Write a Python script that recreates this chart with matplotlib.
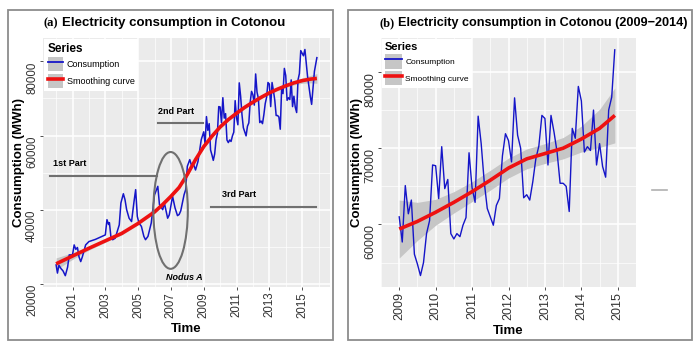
import numpy as np
import matplotlib
matplotlib.use("Agg")
import matplotlib.pyplot as plt
from matplotlib.patches import Ellipse, Patch, Rectangle
from matplotlib.lines import Line2D
from matplotlib.legend_handler import HandlerTuple

plt.rcParams['font.family'] = ['Liberation Sans', 'DejaVu Sans']

# ---- data ----
# panel (a): 2000 - 2008, irregular samples of the monthly curve
early_t = [2000.00, 2000.08, 2000.17, 2000.30, 2000.42, 2000.56, 2000.70, 2000.80,
           2001.00, 2001.10, 2001.20, 2001.30, 2001.40, 2001.50, 2001.60, 2001.80,
           2002.00, 2002.40, 2002.80, 2003.00, 2003.10, 2003.20, 2003.25, 2003.35,
           2003.45, 2003.60, 2003.85, 2003.95, 2004.10, 2004.20, 2004.30, 2004.45,
           2004.60, 2004.75, 2004.85, 2004.95, 2005.05, 2005.20, 2005.35, 2005.45,
           2005.60, 2005.80, 2006.00, 2006.20, 2006.30, 2006.50, 2006.60, 2006.80,
           2006.90, 2007.10, 2007.25, 2007.40, 2007.50, 2007.60, 2007.80, 2007.90,
           2008.00, 2008.15, 2008.25, 2008.35, 2008.50, 2008.65, 2008.85]
early_cons = [25100, 22900, 25000, 24100, 23500, 22200, 24500, 27800,
              27800, 30500, 29300, 29800, 27200, 26000, 27300, 30500,
              31400, 32000, 32800, 33200, 37300, 36000, 36500, 32300,
              31900, 32300, 35900, 41800, 44300, 42700, 40000, 37700,
              36800, 42200, 45400, 38200, 36400, 35500, 32800, 31900,
              32800, 36400, 44000, 46300, 41400, 40000, 41800, 37700,
              38600, 43600, 40500, 38400, 38700, 39700, 44000, 45400,
              51700, 53500, 52000, 52600, 50700, 53000, 58900]

# monthly consumption Jan 2009 - Dec 2014 (shared by both panels)
cons_2009 = [61000, 57700, 65100, 61400, 63200, 56100, 54800, 53300, 55000, 58800, 60500, 67800]
cons_2010 = [67700, 63400, 70200, 64700, 65900, 58800, 58100, 58800, 58400, 59900, 60900, 69400]
cons_2011 = [64800, 62900, 74200, 70600, 65600, 62100, 61000, 59900, 62500, 63400, 69000, 71900]
cons_2012 = [71000, 68200, 76600, 71700, 70000, 63500, 63900, 63200, 65600, 68600, 70300, 74300]
cons_2013 = [73900, 67800, 74300, 72100, 69500, 65400, 65400, 65000, 61700, 72600, 71300, 78100]
cons_2014 = [76200, 69500, 70200, 69700, 75000, 67800, 70600, 67600, 66200, 75000, 76700, 82900]

late_t = [2015.08, 2015.17, 2015.33, 2015.50, 2015.58, 2015.75, 2015.90]
late_cons = [81500, 83200, 76000, 70500, 68400, 77300, 81000]

# smoothing curves and half width of their grey bands
smooth_a_t = [2000.0, 2001.0, 2002.0, 2003.0, 2004.0, 2005.0, 2006.0, 2006.5, 2007.0,
              2007.5, 2008.0, 2008.5, 2009.0, 2009.5, 2010.0, 2010.5, 2011.0, 2011.5,
              2012.0, 2012.5, 2013.0, 2013.5, 2014.0, 2014.5, 2015.0, 2015.5, 2015.9]
smooth_a = [25400, 27500, 29600, 31600, 33600, 36300, 39400, 41400, 43600,
            46000, 49500, 53500, 57000, 59800, 62300, 64300, 66000, 67600,
            69000, 70300, 71500, 72500, 73400, 74200, 74800, 75200, 75400]
band_a = [1600, 900, 500, 400, 400, 400, 400, 400, 400,
          400, 400, 400, 400, 400, 400, 400, 400, 400,
          400, 400, 400, 400, 450, 550, 700, 1000, 1300]

smooth_b_t = [2009.0, 2009.5, 2010.0, 2010.5, 2011.0, 2011.5, 2012.0, 2012.5,
              2013.0, 2013.5, 2014.0, 2014.5, 2014.92]
smooth_b = [59400, 60400, 61600, 62900, 64300, 65800, 67400, 68600,
            69300, 70000, 71200, 72600, 74300]
band_b = [3800, 2500, 1700, 1400, 1300, 1300, 1300, 1300,
          1300, 1400, 1700, 2500, 3600]

years_a = [2001, 2003, 2005, 2007, 2009, 2011, 2013, 2015]
years_b = [2009, 2010, 2011, 2012, 2013, 2014, 2015]

monthly = cons_2009 + cons_2010 + cons_2011 + cons_2012 + cons_2013 + cons_2014
month_t = list(2009 + np.arange(len(monthly)) / 12)

BLUE = '#1515C8'
RED = '#EE1111'
BAND = '#C6C6C6'
PANEL = '#EBEBEB'


def style_panel(ax, xticks, yticks, xminor, yminor, tick_fs):
    ax.set_facecolor(PANEL)
    for s in ax.spines.values():
        s.set_visible(False)
    ax.set_xticks(xticks)
    ax.set_xticks(xminor, minor=True)
    ax.set_yticks(yticks)
    ax.set_yticks(yminor, minor=True)
    ax.set_xticklabels([str(y) for y in xticks], rotation=90, va='top', ha='center')
    ax.set_yticklabels([str(y) for y in yticks], rotation=90, va='top', ha='right')
    ax.grid(which='major', color='white', lw=1.1)
    ax.grid(which='minor', color='white', lw=0.5)
    ax.set_axisbelow(True)
    ax.tick_params(which='major', length=2.5, width=0.6, color='#333333',
                   labelsize=tick_fs, labelcolor='#333333', pad=1)
    ax.tick_params(which='minor', length=0)
    ax.set_xlabel('Time', fontweight='bold', fontsize=9.5, labelpad=4)
    ax.set_ylabel('Consumption (MWh)', fontweight='bold', fontsize=9.5, labelpad=1)


def add_legend(ax, fs, hl, hh):
    handles = [(Patch(facecolor=BAND, edgecolor='none'), Line2D([], [], color=BLUE, lw=1.3)),
               (Patch(facecolor=BAND, edgecolor='none'), Line2D([], [], color=RED, lw=2.6))]
    leg = ax.legend(handles, ['Consumption', 'Smoothing curve'], title='Series',
                    handler_map={tuple: HandlerTuple(ndivide=1, pad=0)},
                    loc='upper left', bbox_to_anchor=(0, 1), borderaxespad=0.15,
                    fontsize=fs, title_fontproperties={'weight': 'bold', 'size': fs + 2},
                    handlelength=hl, handleheight=hh, handletextpad=0.4,
                    labelspacing=0.25, borderpad=0.35, alignment='left',
                    fancybox=False, framealpha=1, edgecolor='white')
    leg.get_frame().set_linewidth(0)


fig = plt.figure(figsize=(7, 3.5), dpi=100)

# ---- panel (a) ----
ax1 = fig.add_axes([43 / 700, 1 - 287 / 350, 287 / 700, 249 / 350])
t_a = early_t + month_t + late_t
c_a = early_cons + monthly + late_cons
sa = np.array(smooth_a)
ba = np.array(band_a)
ax1.fill_between(smooth_a_t, sa - ba, sa + ba, color=BAND, lw=0, zorder=2)
ax1.plot(t_a, c_a, color=BLUE, lw=1.1, zorder=3)
ax1.plot(smooth_a_t, smooth_a, color=RED, lw=2.6, zorder=4, solid_capstyle='butt')
ax1.set_xlim(1999.2, 2016.7)
ax1.set_ylim(19150, 86300)
style_panel(ax1, years_a, [20000, 40000, 60000, 80000],
            list(range(2000, 2017, 2)), [30000, 50000, 70000], 8.3)
add_legend(ax1, 6.5, 1.75, 2.1)

# annotations of panel (a)
note_c = '#707070'
ax1.plot([1999.6, 2006.13], [49200, 49200], color=note_c, lw=1.5, zorder=5)
ax1.text(1999.8, 52400, '1st Part', fontsize=6.5, fontweight='bold', va='center', ha='left')
ax1.plot([2006.2, 2008.95], [63500, 63500], color=note_c, lw=1.5, zorder=5)
ax1.text(2006.2, 66400, '2nd Part', fontsize=6.5, fontweight='bold', va='center', ha='left')
ax1.plot([2009.45, 2015.85], [40800, 40800], color=note_c, lw=1.5, zorder=5)
ax1.text(2010.1, 44000, '3rd Part', fontsize=6.5, fontweight='bold', va='center', ha='left')
ax1.add_patch(Ellipse((2006.98, 39800), 2.1, 31500, fill=False, edgecolor=note_c, lw=1.5, zorder=5))
ax1.text(2007.8, 21700, 'Nodus A', fontsize=6.5, fontweight='bold', style='italic',
         va='center', ha='center')

fig.text(43 / 700, 1 - 23 / 350, '(a)', family='Liberation Serif', fontweight='bold',
         fontsize=9, va='center', ha='left')
fig.text(62 / 700, 1 - 23 / 350, 'Electricity consumption in Cotonou', fontweight='bold',
         fontsize=9.5, va='center', ha='left')

# ---- panel (b) ----
ax2 = fig.add_axes([381 / 700, 1 - 287 / 350, 255 / 700, 249 / 350])
sb = np.array(smooth_b)
bb = np.array(band_b)
ax2.fill_between(smooth_b_t, sb - bb, sb + bb, color=BAND, lw=0, zorder=2)
ax2.plot(month_t, monthly, color=BLUE, lw=1.0, zorder=3)
ax2.plot(smooth_b_t, smooth_b, color=RED, lw=2.6, zorder=4, solid_capstyle='butt')
ax2.set_xlim(2008.7, 2015.22)
ax2.set_ylim(51800, 84450)
style_panel(ax2, years_b, [60000, 70000, 80000],
            list(np.arange(2008.5, 2015.6, 1.0)), [55000, 65000, 75000], 9)
add_legend(ax2, 6, 2.0, 2.3)

fig.text(380 / 700, 1 - 23 / 350, '(b)', family='Liberation Serif', fontweight='bold',
         fontsize=9, va='center', ha='left')
fig.text(398 / 700, 1 - 23 / 350, 'Electricity consumption in Cotonou (2009\u22122014)',
         fontweight='bold', fontsize=9.1, va='center', ha='left')

# frames around the two pasted figures
for x0, x1 in [(8, 333), (348, 692)]:
    fig.patches.append(Rectangle((x0 / 700, 1 - 340 / 350), (x1 - x0) / 700, 330 / 350,
                                 transform=fig.transFigure, fill=False,
                                 edgecolor='#8C8C8C', lw=1.3))
fig.lines.append(Line2D([652 / 700, 667 / 700], [1 - 190 / 350, 1 - 190 / 350],
                        transform=fig.transFigure, color='#B0B0B0', lw=1.2))

fig.savefig('out.png', dpi=100)
